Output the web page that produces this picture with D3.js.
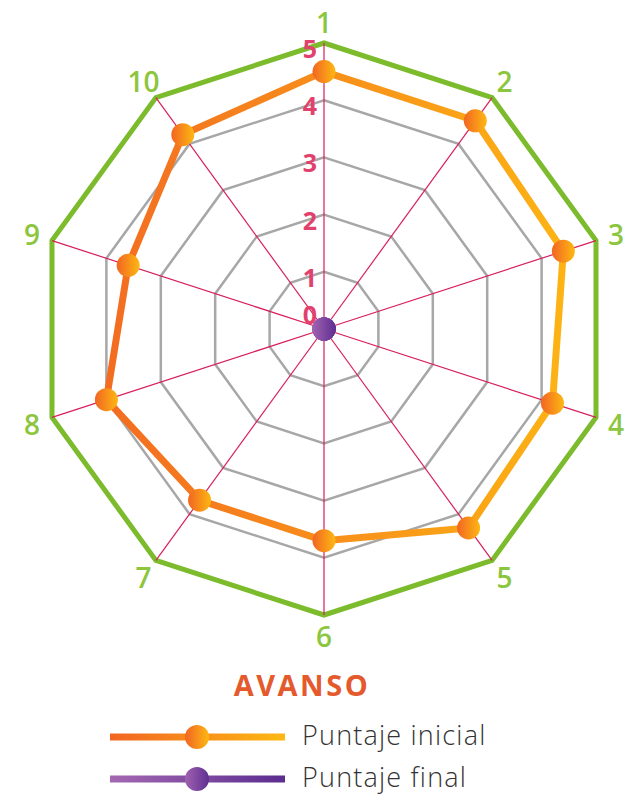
<!DOCTYPE html>
<meta charset="utf-8">
<script src="https://d3js.org/d3.v7.min.js"></script>
<style>
  body { margin: 0; background: #fff; }
  text { font-family: "Open Sans", sans-serif; }
</style>
<div id="my_dataviz"></div>

<script>

// categories (axes), series values and level ticks
var categories = ["1", "2", "3", "4", "5", "6", "7", "8", "9", "10"];
var puntajeInicial = [4.5, 4.5, 4.4, 4.2, 4.3, 3.7, 3.7, 4.0, 3.6, 4.2];
var puntajeFinal = [0, 0, 0, 0, 0, 0, 0, 0, 0, 0];
var levels = [0, 1, 2, 3, 4, 5];
var seriesNames = ["Puntaje inicial", "Puntaje final"];

var width = 640, height = 795;
var cx = 324, cy = 329, radius = 286;

var svg = d3.select("#my_dataviz")
  .append("svg")
    .attr("width", width)
    .attr("height", height);

// gradients
var defs = svg.append("defs");
function hGrad(id, c1, c2, units, x1, x2) {
  var g = defs.append("linearGradient").attr("id", id);
  if (units) {
    g.attr("gradientUnits", units).attr("x1", x1).attr("x2", x2).attr("y1", 0).attr("y2", 0);
  }
  g.append("stop").attr("offset", "0%").attr("stop-color", c1);
  g.append("stop").attr("offset", "100%").attr("stop-color", c2);
}
hGrad("orangeLine", "#f26522", "#fdb813", "userSpaceOnUse", 60, 595);
hGrad("orangeDot", "#f26522", "#fdb813");
hGrad("purpleDot", "#a062b0", "#5f2f92");
hGrad("orangeLegend", "#f26522", "#fdb813", "userSpaceOnUse", 110, 285);
hGrad("purpleLegend", "#a468b2", "#5b2d90", "userSpaceOnUse", 110, 285);

// scales
var r = d3.scaleLinear().domain([0, 5]).range([0, radius]);
var angle = d3.scaleLinear().domain([0, categories.length]).range([0, 2 * Math.PI]);

function px(i, v) { return cx + r(v) * Math.sin(angle(i)); }
function py(i, v) { return cy - r(v) * Math.cos(angle(i)); }

var chart = svg.append("g");

// gray level rings (level 5 is the green outer ring)
var ring = d3.line().x(function(d) { return d[0]; }).y(function(d) { return d[1]; }).curve(d3.curveLinearClosed);
levels.slice(1).forEach(function(lv) {
  var pts = categories.map(function(c, i) { return [px(i, lv), py(i, lv)]; });
  chart.append("path")
    .attr("d", ring(pts))
    .attr("fill", "none")
    .attr("stroke", lv === 5 ? "#7cbb2c" : "#a7a7a7")
    .attr("stroke-width", lv === 5 ? 5 : 2.5)
    .attr("stroke-linejoin", "miter");
});

// axes
chart.selectAll(".axis")
  .data(categories)
  .enter()
  .append("line")
    .attr("x1", cx)
    .attr("y1", cy)
    .attr("x2", function(d, i) { return px(i, 5); })
    .attr("y2", function(d, i) { return py(i, 5); })
    .attr("stroke", "#d81e5b")
    .attr("stroke-width", 1.2);

// level labels
chart.selectAll(".lvl")
  .data(levels)
  .enter()
  .append("text")
    .attr("x", cx - 7)
    .attr("y", function(d) { return d === 0 ? cy - 5 : cy - r(d) + 15; })
    .attr("text-anchor", "end")
    .attr("fill", "#e2416e")
    .style("font-size", "25px")
    .style("font-weight", "bold")
    .text(function(d) { return d; });

// category labels
chart.selectAll(".cat")
  .data(categories)
  .enter()
  .append("text")
    .attr("x", function(d, i) { return cx + (radius + 21) * Math.sin(angle(i)); })
    .attr("y", function(d, i) { return cy - (radius + 21) * Math.cos(angle(i)); })
    .attr("text-anchor", "middle")
    .attr("dominant-baseline", "central")
    .attr("fill", "#8cc63e")
    .style("font-size", "28px")
    .style("font-weight", 600)
    .text(function(d) { return d; });

// series
function drawSeries(values, lineFill, dotFill) {
  var pts = values.map(function(v, i) { return [px(i, v), py(i, v)]; });
  chart.append("path")
    .attr("d", ring(pts))
    .attr("fill", "none")
    .attr("stroke", lineFill)
    .attr("stroke-width", 7)
    .attr("stroke-linejoin", "round");
  chart.selectAll(null)
    .data(pts)
    .enter()
    .append("circle")
      .attr("cx", function(d) { return d[0]; })
      .attr("cy", function(d) { return d[1]; })
      .attr("r", 11.5)
      .attr("fill", dotFill);
}
drawSeries(puntajeInicial, "url(#orangeLine)", "url(#orangeDot)");
drawSeries(puntajeFinal, "url(#purpleLegend)", "url(#purpleDot)");

// title
svg.append("text")
  .attr("x", 302)
  .attr("y", 696)
  .attr("text-anchor", "middle")
  .attr("fill", "#e45a2c")
  .style("font-size", "29px")
  .style("font-weight", "bold")
  .style("letter-spacing", "2.5px")
  .text("AVANSO");

// legend
var legend = svg.selectAll(".legend")
  .data(seriesNames)
  .enter()
  .append("g")
    .attr("transform", function(d, i) { return "translate(0," + (737 + i * 42) + ")"; });

legend.append("line")
  .attr("x1", 110).attr("x2", 285)
  .attr("y1", 0).attr("y2", 0)
  .attr("stroke", function(d, i) { return i === 0 ? "url(#orangeLegend)" : "url(#purpleLegend)"; })
  .attr("stroke-width", 7);

legend.append("circle")
  .attr("cx", 197)
  .attr("cy", 0)
  .attr("r", 12)
  .attr("fill", function(d, i) { return i === 0 ? "url(#orangeDot)" : "url(#purpleDot)"; });

legend.append("text")
  .attr("x", 302)
  .attr("y", 8)
  .attr("fill", "#333")
  .style("font-size", "27px")
  .style("font-weight", 300)
  .style("letter-spacing", "1.2px")
  .text(function(d) { return d; });

</script>
